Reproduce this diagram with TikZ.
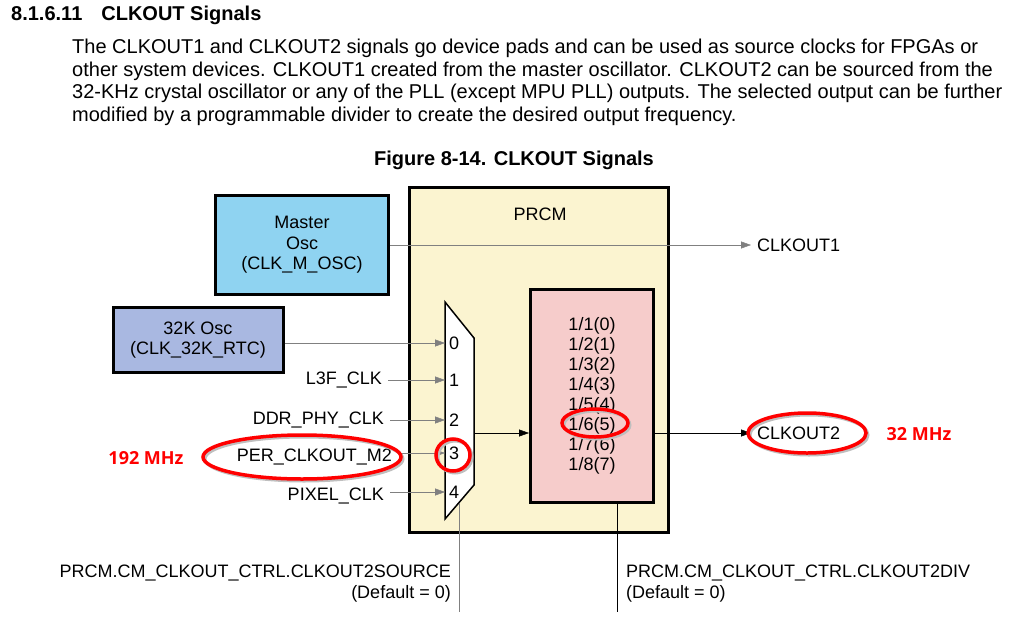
\documentclass[tikz,border=0pt]{standalone}
\usepackage{fontspec}
\setmainfont{Liberation Sans}
\newfontfamily\rossofont{Open Sans}
\usetikzlibrary{arrows.meta,positioning,shapes.geometric}

\definecolor{bluosc}{HTML}{8FD3F1}
\definecolor{lilla}{HTML}{A9B8E1}
\definecolor{crema}{HTML}{FBF4D0}
\definecolor{rosa}{HTML}{F6CCCB}
\definecolor{filo}{HTML}{808080}

\begin{document}
\begin{tikzpicture}[x=1pt,y=-1pt,
    testo/.style={font=\fontsize{18}{21}\selectfont, inner sep=0pt},
    corpo/.style={font=\fontsize{20}{23}\selectfont, inner sep=0pt, anchor=base west},
    blocco/.style={draw=black, line width=3pt, align=center, font=\fontsize{18}{20.5}\selectfont, inner sep=0pt},
    freccia/.style={-{Triangle[length=10pt,width=7pt]}},
    cerchio/.style={draw=red, line width=3.5pt},
    ombra/.style={draw=black!25, line width=3pt}]

    % Area della figura
    \useasboundingbox (0,0) rectangle (1021,619);

    % Titolo e paragrafo
    \node[corpo, font=\bfseries\fontsize{20}{23}\selectfont] (sezione) at (11,20) {8.1.6.11\hspace{19pt}CLKOUT Signals};
    \node[corpo] (riga1) at (72,53) {The CLKOUT1 and CLKOUT2 signals go device pads and can be used as source clocks for FPGAs or};
    \node[corpo] (riga2) at (72,76) {other system devices. CLKOUT1 created from the master oscillator. CLKOUT2 can be sourced from the};
    \node[corpo] (riga3) at (72,98.5) {32-KHz crystal oscillator or any of the PLL (except MPU PLL) outputs. The selected output can be further};
    \node[corpo] (riga4) at (72,121) {modified by a programmable divider to create the desired output frequency.};
    \node[corpo, anchor=base, font=\bfseries\fontsize{20}{23}\selectfont] (didascalia) at (514,165) {Figure 8-14. CLKOUT Signals};

    % Blocco PRCM
    \node[blocco, fill=crema, minimum width=259pt, minimum height=345pt] (prcm) at (538.5,359.5) {};
    \node[testo] (prcmnome) at (540,214) {PRCM};

    % Oscillatori
    \node[blocco, fill=bluosc, minimum width=173pt, minimum height=99pt] (master) at (302,245) {Master\\Osc\\(CLK\_M\_OSC)};
    \node[blocco, fill=lilla, minimum width=170pt, minimum height=65pt] (osck) at (198,340) {32K Osc\\(CLK\_32K\_RTC)};

    % Uscite
    \node[testo, anchor=west] (clk1) at (757,245) {CLKOUT1};
    \node[testo, anchor=west] (clk2) at (757,433) {CLKOUT2};
    \draw[freccia, filo] (master) -- ([xshift=-6pt]clk1.west);

    % Multiplexer
    \draw[fill=white, line width=1.5pt] (445,302) -- (474,338) -- (474,485) -- (445,519) -- cycle;
    \coordinate (m0) at (445,343);
    \coordinate (m1) at (445,380);
    \coordinate (m2) at (445,420);
    \coordinate (m3) at (445,453);
    \coordinate (m4) at (445,492);
    \coordinate (muxout) at (474,433);
    \coordinate (sel) at (459,503);
    \coordinate (selfine) at (459,612);
    \foreach \i in {0,...,4}
        \node[testo, anchor=west] (n\i) at ([xshift=4pt]m\i) {\i};

    % Ingressi del multiplexer
    \node[testo, anchor=east] (l3f) at (382,380) {L3F\_CLK};
    \node[testo, anchor=east] (ddr) at (384,420) {DDR\_PHY\_CLK};
    \node[testo, anchor=east] (per) at (392,457) {PER\_CLKOUT\_M2};
    \node[testo, anchor=east] (pix) at (384,496) {PIXEL\_CLK};
    \draw[freccia, filo] (osck.east |- m0) -- (m0);
    \draw[freccia, filo] ([xshift=6pt]l3f.east |- m1) -- (m1);
    \draw[freccia, filo] ([xshift=6pt]ddr.east |- m2) -- (m2);
    \draw[freccia, filo] ([xshift=6pt]per.east |- m3) -- (m3);
    \draw[freccia, filo] ([xshift=6pt]pix.east |- m4) -- (m4);

    % Divisore
    \node[blocco, fill=rosa, minimum width=123pt, minimum height=213pt, font=\fontsize{18}{20}\selectfont] (div) at (592,395.5)
        {1/1(0)\\1/2(1)\\1/3(2)\\1/4(3)\\1/5(4)\\1/6(5)\\1/7(6)\\1/8(7)};
    \draw[freccia] (muxout) -- (muxout -| div.west);
    \draw[freccia] (div.east |- clk2) -- ([xshift=-6pt]clk2.west);

    % Registri di controllo
    \coordinate (divsel) at (617,502);
    \coordinate (divfine) at (617,612);
    \draw[filo, line width=1pt] (sel) -- (selfine);
    \draw[line width=1pt] (divsel) -- (divfine);
    \node[testo, anchor=east, align=right] (sorgente) at (451,584) {PRCM.CM\_CLKOUT\_CTRL.CLKOUT2SOURCE\\(Default = 0)};
    \node[testo, anchor=west, align=left] (divisore) at (626,584) {PRCM.CM\_CLKOUT\_CTRL.CLKOUT2DIV\\(Default = 0)};

    % Evidenziazioni in rosso
    \draw[ombra] (304,459) ellipse (99 and 22);
    \draw[cerchio] (302,457) ellipse (99 and 22);
    \draw[ombra] (455,457) ellipse (17 and 16);
    \draw[cerchio] (453,455) ellipse (17 and 16);
    \draw[ombra] (597,425) ellipse (33 and 14);
    \draw[cerchio] (595,423) ellipse (33 and 14);
    \draw[ombra] (809,435) ellipse (59 and 20);
    \draw[cerchio] (807,433) ellipse (59 and 20);
    \node[testo, text=red, font=\rossofont\bfseries\fontsize{18}{21}\selectfont] (f192) at (146,458) {192 MHz};
    \node[testo, text=red, font=\rossofont\bfseries\fontsize{18}{21}\selectfont] (f32) at (919,434) {32 MHz};

\end{tikzpicture}
\end{document}
